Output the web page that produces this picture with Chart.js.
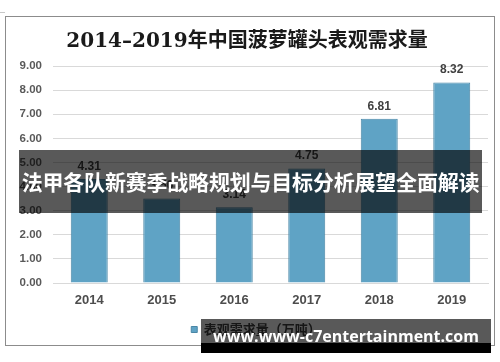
<!DOCTYPE html>
<html>
<head>
<meta charset="utf-8">
<script src="https://cdn.jsdelivr.net/npm/chart.js@4.4.0/dist/chart.umd.min.js"></script>
<style>
  body { margin: 0; background: #fff; }
  #wrap { position: relative; width: 500px; height: 362px; overflow: hidden; }
  #chart { position: absolute; left: 0; top: 0; }
  .banner {
    position: absolute; left: 19px; top: 150px; width: 463px; height: 63px;
    background: rgba(0,0,0,0.65); color: #fff;
    font: bold 21px 'Noto Sans CJK SC', sans-serif;
    line-height: 63px; text-align: center; white-space: nowrap; letter-spacing: -0.2px;
  }
  .mark {
    position: absolute; left: 201px; top: 319px; width: 290px; height: 24px;
    background: rgba(0,0,0,0.65); border-bottom: 10px solid #000;
    color: #fff; font: bold 16px 'Open Sans', sans-serif;
    line-height: 34px; text-align: center; white-space: nowrap;
  }
</style>
</head>
<body>
<div id="wrap">
  <canvas id="chart" width="500" height="362"></canvas>
  <div class="banner">法甲各队新赛季战略规划与目标分析展望全面解读</div>
  <div class="mark">www.www-c7entertainment.com</div>
</div>
<script>
// data
const years = ["2014", "2015", "2016", "2017", "2018", "2019"];
const demand = [4.31, 3.50, 3.14, 4.75, 6.81, 8.32];
const yTicks = [0, 1, 2, 3, 4, 5, 6, 7, 8, 9];

const barBlue = "#5fa3c5";

// white background + outer frame
const framePlugin = {
  id: "frame",
  beforeDraw(chart) {
    const c = chart.ctx;
    c.save();
    c.fillStyle = "#fff";
    c.fillRect(0, 0, chart.width, chart.height);
    c.strokeStyle = "#8c8c8c";
    c.lineWidth = 1;
    c.strokeRect(5.5, 16.5, 489, 329);
    c.strokeStyle = "#c8c8c8";
    c.beginPath();
    c.moveTo(0, 12.5);
    c.lineTo(5, 12.5);
    c.stroke();
    c.restore();
  }
};

// legend sits a bit right of centre in the original
const legendShift = {
  id: "legendShift",
  afterLayout(chart) {
    chart.legend.left += 9;
    chart.legend.right += 9;
  }
};

// value labels over bars
const valueLabels = {
  id: "valueLabels",
  afterDatasetsDraw(chart) {
    const c = chart.ctx;
    const meta = chart.getDatasetMeta(0);
    c.save();
    c.font = "bold 12px 'Liberation Sans', sans-serif";
    c.fillStyle = "#404040";
    c.textAlign = "center";
    c.textBaseline = "middle";
    meta.data.forEach((bar, i) => {
      c.fillText(demand[i].toFixed(2), bar.x, bar.y - 12.5);
    });
    c.restore();
  }
};

new Chart(document.getElementById("chart"), {
  type: "bar",
  data: {
    labels: years,
    datasets: [{
      label: "表观需求量（万吨）",
      data: demand,
      backgroundColor: barBlue,
      borderColor: "#4a87a6",
      borderWidth: 1,
      categoryPercentage: 1,
      barPercentage: 0.51
    }]
  },
  options: {
    responsive: false,
    animation: false,
    devicePixelRatio: 1,
    layout: { padding: { left: 6, right: 12, top: 17, bottom: 16 } },
    plugins: {
      tooltip: { enabled: false },
      title: {
        display: true,
        text: "2014–2019年中国菠萝罐头表观需求量",
        color: "#1a1a1a",
        font: { family: "'DejaVu Serif', 'Noto Sans CJK SC', serif", size: 20, weight: "bold" },
        padding: { top: 13, bottom: 12 }
      },
      legend: {
        position: "bottom",
        labels: {
          boxWidth: 6,
          boxHeight: 6,
          padding: 3,
          color: "#404040",
          font: { family: "'Noto Sans CJK SC', sans-serif", size: 13, weight: "bold" }
        }
      }
    },
    scales: {
      x: {
        afterFit(scale) { scale.height = 37; },
        grid: { display: false, drawTicks: false },
        border: { color: "#d9d9d9" },
        ticks: {
          padding: 10,
          color: "#4d4d4d",
          font: { family: "'Liberation Sans', sans-serif", size: 13, weight: "bold" }
        }
      },
      y: {
        min: 0,
        max: 9,
        afterBuildTicks(scale) { scale.ticks = yTicks.map(v => ({ value: v })); },
        afterFit(scale) { scale.width = 47; },
        grid: { color: "#d9d9d9", drawTicks: false },
        border: { display: false },
        ticks: {
          padding: 11,
          color: "#595959",
          font: { family: "'Liberation Sans', sans-serif", size: 11.5, weight: "bold" },
          callback: v => Number(v).toFixed(2)
        }
      }
    }
  },
  plugins: [framePlugin, legendShift, valueLabels]
});
</script>
</body>
</html>
